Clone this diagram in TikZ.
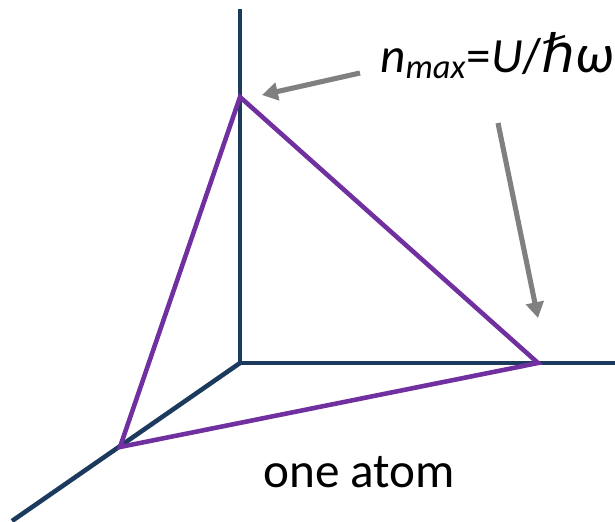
\documentclass[tikz,border=0pt]{standalone}
\usepackage{fontspec}
\setmainfont{Carlito}
\newfontfamily\dejavu{DejaVu Sans}
\usetikzlibrary{arrows.meta}
\definecolor{axisblue}{HTML}{1B3A5E}
\definecolor{triviolet}{HTML}{7030A0}
\definecolor{ptrgray}{HTML}{808080}
\tikzset{
  axis/.style={draw=axisblue,line width=2.6pt},
  tri/.style={draw=triviolet,line width=2.6pt,line join=miter},
  ptr/.style={draw=ptrgray,line width=2.9pt,-{Triangle[length=9pt,width=10pt]}},
  lbl/.style={font=\fontsize{28}{30}\selectfont,inner sep=0pt}
}
\begin{document}
\begin{tikzpicture}[x=0.02cm,y=-0.02cm]
\useasboundingbox (0,0) rectangle (615,521);
% axes
\coordinate (o) at (240,363);
\coordinate (ytop) at (240,9); \coordinate (xend) at (615,363); \coordinate (zend) at (12,521);
\draw[axis] (ytop) -- (o) -- (xend); \draw[axis] (o) -- (zend);
% triangle
\coordinate (a) at (240,97); \coordinate (b) at (538,363); \coordinate (c) at (120,447);
\draw[tri] (a) -- (b) -- (c) -- cycle;
% labels
\node[lbl,anchor=base west] (nmax) at (380,72) {\textit{n}\textsubscript{\textit{max}}=\textit{U}/{\fontsize{30}{32}\dejavu\itshape ℏ}{\fontsize{31}{32}\selectfont\textit{ω}}};
\node[lbl,anchor=base west] (atom) at (263,487) {one atom};
\coordinate (t1) at (360,73); \coordinate (h1) at (262,95);
\coordinate (t2) at (498,123); \coordinate (h2) at (538,318);
\draw[ptr] (t1) -- (h1); \draw[ptr] (t2) -- (h2);
\end{tikzpicture}
\end{document}
